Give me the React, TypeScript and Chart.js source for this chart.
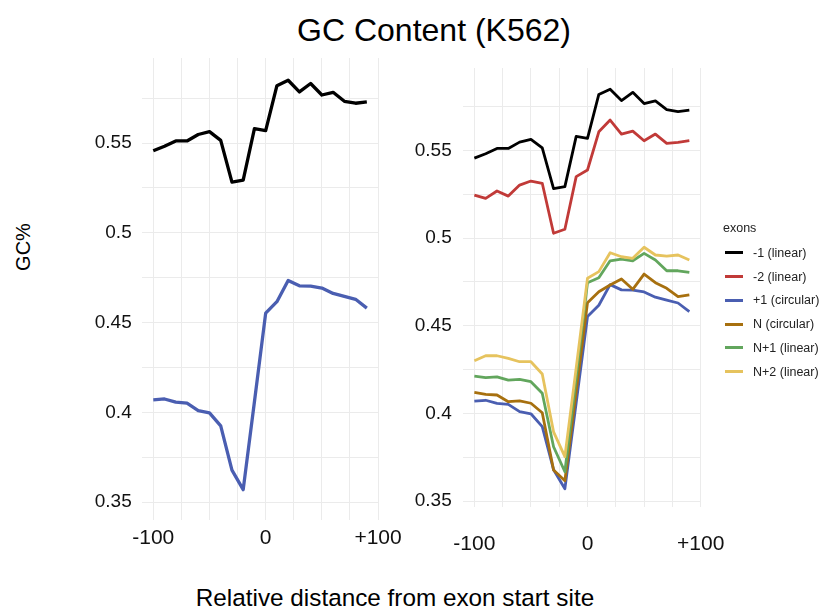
import React, { useEffect, useRef } from "react";
import { Chart, registerables } from "chart.js";

Chart.register(...registerables);

const FONT = '"Liberation Sans", Arial, Helvetica, sans-serif';

// Distance from the exon start site (bp)
const POSITIONS = [-100, -90, -80, -70, -60, -50, -40, -30, -20, -10, 0, 10, 20, 30, 40, 50, 60, 70, 80, 90];

// GC fraction per exon group
const MINUS1_LINEAR = [0.5457, 0.5482, 0.5512, 0.5512, 0.5548, 0.5564, 0.5515, 0.5283, 0.5294, 0.5581, 0.557, 0.582, 0.585, 0.5785, 0.5832, 0.5768, 0.5783, 0.5733, 0.5722, 0.573];
const MINUS2_LINEAR = [0.5246, 0.5227, 0.5269, 0.524, 0.5303, 0.5326, 0.5313, 0.5028, 0.5051, 0.5351, 0.5389, 0.5607, 0.5674, 0.5594, 0.5611, 0.5556, 0.5594, 0.5541, 0.5547, 0.5556];
const PLUS1_CIRCULAR = [0.407, 0.4075, 0.4057, 0.4052, 0.401, 0.3998, 0.3925, 0.3679, 0.357, 0.406, 0.4553, 0.4617, 0.4735, 0.4705, 0.4704, 0.4693, 0.4663, 0.4646, 0.463, 0.4581];
const N_CIRCULAR = [0.412, 0.4109, 0.4105, 0.4067, 0.4071, 0.4058, 0.4004, 0.3677, 0.3616, 0.4125, 0.4632, 0.4694, 0.4733, 0.4767, 0.4708, 0.4795, 0.4746, 0.4714, 0.4666, 0.4676];
const N1_LINEAR = [0.4213, 0.4204, 0.4209, 0.419, 0.4194, 0.4181, 0.4115, 0.381, 0.3667, 0.4205, 0.4746, 0.4774, 0.4871, 0.4881, 0.4871, 0.4913, 0.4875, 0.4814, 0.4814, 0.4805];
const N2_LINEAR = [0.4301, 0.4329, 0.4329, 0.4314, 0.4295, 0.4295, 0.4225, 0.3895, 0.3753, 0.426, 0.4771, 0.4809, 0.4917, 0.4894, 0.4885, 0.4948, 0.4904, 0.4898, 0.4904, 0.4875];

const SERIES_VALUES = [MINUS1_LINEAR, MINUS2_LINEAR, PLUS1_CIRCULAR, N_CIRCULAR, N1_LINEAR, N2_LINEAR];
const SERIES_NAMES = ["-1 (linear)", "-2 (linear)", "+1 (circular)", "N (circular)", "N+1 (linear)", "N+2 (linear)"];
const SERIES_COLORS = ["#000000", "#c13a38", "#4a5eb1", "#a7700f", "#62a65d", "#e6c35e"];

// Axis grid and tick labels
const Y_GRID = [0.35, 0.375, 0.4, 0.425, 0.45, 0.475, 0.5, 0.525, 0.55, 0.575];
const Y_LABELED = [0.35, 0.4, 0.45, 0.5, 0.55];
const X_GRID = [-100, -75, -50, -25, 0, 25, 50, 75, 100];
const X_TICK_VALUES = [-100, 0, 100];
const X_TICK_TEXT = ["-100", "0", "+100"];

type PanelProps = {
  left: number;
  top: number;
  width: number;
  height: number;
  area: { left: number; top: number; right: number; bottom: number };
  yRange: [number, number];
  xRange: [number, number];
  series: number[];
  lineWidth: number;
  xPad: number;
  yPad: number;
};

function Panel(p: PanelProps) {
  const ref = useRef<HTMLCanvasElement | null>(null);

  useEffect(() => {
    if (!ref.current) return;
    const yAxisWidth = p.area.left - p.left;
    const xAxisHeight = p.top + p.height - p.area.bottom;
    const datasets = p.series.map((s, i) => ({
      label: SERIES_NAMES[s],
      data: POSITIONS.map((x, k) => ({ x, y: SERIES_VALUES[s][k] })),
      borderColor: SERIES_COLORS[s],
      backgroundColor: SERIES_COLORS[s],
      borderWidth: p.lineWidth,
      pointRadius: 0,
      tension: 0,
      borderJoinStyle: "round" as const,
      borderCapStyle: "butt" as const,
      order: -i,
    }));

    const chart = new Chart(ref.current, {
      type: "line",
      data: { datasets },
      options: {
        responsive: false,
        animation: false,
        events: [],
        layout: {
          padding: {
            left: 0,
            top: p.area.top - p.top,
            right: p.left + p.width - p.area.right,
            bottom: 0,
          },
        },
        plugins: {
          legend: { display: false },
          title: { display: false },
          tooltip: { enabled: false },
        },
        scales: {
          x: {
            type: "linear",
            min: p.xRange[0],
            max: p.xRange[1],
            afterBuildTicks: (scale: any) => {
              scale.ticks = X_GRID.map((value) => ({ value }));
            },
            afterFit: (scale: any) => {
              scale.height = xAxisHeight;
            },
            grid: { color: "#ebebeb", lineWidth: 1, drawTicks: false },
            border: { display: false },
            ticks: {
              autoSkip: false,
              maxRotation: 0,
              padding: p.xPad,
              color: "#111111",
              font: { family: FONT, size: 21 },
              callback: (v: any) => {
                const idx = X_TICK_VALUES.indexOf(Number(v));
                return idx >= 0 ? X_TICK_TEXT[idx] : "";
              },
            },
          },
          y: {
            type: "linear",
            min: p.yRange[0],
            max: p.yRange[1],
            afterBuildTicks: (scale: any) => {
              scale.ticks = Y_GRID.map((value) => ({ value }));
            },
            afterFit: (scale: any) => {
              scale.width = yAxisWidth;
            },
            grid: { color: "#ebebeb", lineWidth: 1, drawTicks: false },
            border: { display: false },
            ticks: {
              autoSkip: false,
              padding: p.yPad,
              color: "#111111",
              font: { family: FONT, size: 19 },
              callback: (v: any) => {
                const n = Number(v);
                return Y_LABELED.some((l) => Math.abs(l - n) < 1e-9) ? String(Number(n.toFixed(3))) : "";
              },
            },
          },
        },
      },
    });
    return () => chart.destroy();
  }, []);

  return (
    <canvas
      ref={ref}
      width={p.width}
      height={p.height}
      style={{ position: "absolute", left: p.left, top: p.top, width: p.width, height: p.height }}
    />
  );
}

function Legend() {
  return (
    <div style={{ position: "absolute", left: 0, top: 0 }}>
      <div
        style={{
          position: "absolute",
          left: 723,
          top: 228,
          transform: "translateY(-50%)",
          font: `12.5px ${FONT}`,
          color: "#222",
          whiteSpace: "nowrap",
        }}
      >
        exons
      </div>
      {SERIES_NAMES.map((name, i) => (
        <div key={name}>
          <div
            style={{
              position: "absolute",
              left: 725,
              top: 252.7 + i * 23.8 - 1.5,
              width: 18,
              height: 3,
              background: SERIES_COLORS[i],
            }}
          />
          <div
            style={{
              position: "absolute",
              left: 753,
              top: 252.7 + i * 23.8,
              transform: "translateY(-50%)",
              font: `12.5px ${FONT}`,
              color: "#222",
              whiteSpace: "nowrap",
            }}
          >
            {name}
          </div>
        </div>
      ))}
    </div>
  );
}

export default function App() {
  return (
    <div
      style={{
        position: "absolute",
        left: 0,
        top: 0,
        width: 822,
        height: 611,
        background: "#ffffff",
        overflow: "hidden",
        fontFamily: FONT,
      }}
    >
      <div
        style={{
          position: "absolute",
          left: 434,
          top: 30,
          transform: "translate(-50%, -50%)",
          fontSize: 32,
          lineHeight: 1,
          color: "#000",
          whiteSpace: "nowrap",
        }}
      >
        GC Content (K562)
      </div>
      <div
        style={{
          position: "absolute",
          left: 23,
          top: 247,
          transform: "translate(-50%, -50%) rotate(-90deg)",
          fontSize: 20,
          lineHeight: 1,
          color: "#000",
          whiteSpace: "nowrap",
        }}
      >
        GC%
      </div>
      <div
        style={{
          position: "absolute",
          left: 395,
          top: 598,
          transform: "translate(-50%, -50%)",
          fontSize: 24.3,
          lineHeight: 1,
          color: "#000",
          whiteSpace: "nowrap",
        }}
      >
        Relative distance from exon start site
      </div>

      <Panel
        left={0}
        top={0}
        width={430}
        height={570}
        area={{ left: 141.7, top: 58, right: 378.3, bottom: 520 }}
        yRange={[0.3401, 0.5974]}
        xRange={[-110.3, 100.2]}
        series={[0, 2]}
        lineWidth={3.3}
        xPad={6}
        yPad={10}
      />
      <Panel
        left={390}
        top={0}
        width={360}
        height={570}
        area={{ left: 462.7, top: 68, right: 701, bottom: 507 }}
        yRange={[0.3466, 0.5971]}
        xRange={[-110.3, 100.3]}
        series={[0, 1, 2, 3, 4, 5]}
        lineWidth={2.8}
        xPad={25}
        yPad={11}
      />
      <Legend />
    </div>
  );
}
